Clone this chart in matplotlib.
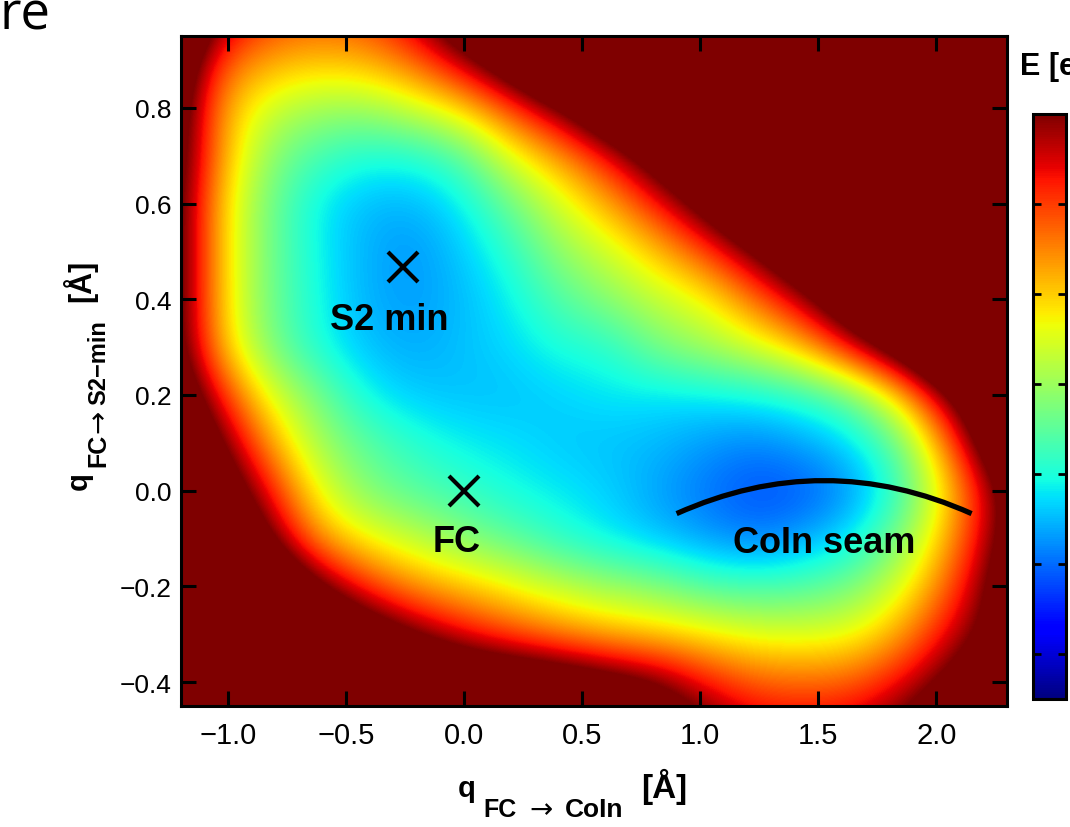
import numpy as np
import matplotlib
matplotlib.use("Agg")
import matplotlib.pyplot as plt
from matplotlib.ticker import FixedLocator, FuncFormatter
from matplotlib.colors import Normalize
from matplotlib.path import Path
from matplotlib.patches import PathPatch

plt.rcParams['font.family'] = ['Liberation Sans', 'DejaVu Sans']

# ---------------- data ----------------
# grid coordinates of the energy samples
q_coin = [-1.252, -1.045, -0.838, -0.631, -0.424, -0.217, -0.010, 0.197, 0.404,
          0.611, 0.818, 1.025, 1.232, 1.439, 1.646, 1.853, 2.060, 2.267, 2.474]
q_s2 = [-0.5, -0.4, -0.3, -0.2, -0.1, 0.0, 0.1, 0.2, 0.3, 0.4, 0.5, 0.6, 0.7, 0.8, 0.9, 1.0]

# energy rows (eV), one per q_s2 value
E_m05 = [9.0, 9.0, 9.0, 9.0, 9.0, 9.0, 9.0, 9.0, 9.0, 9.0, 7.8, 6.8, 6.2, 6.1, 6.2, 6.8, 8.0, 9.0, 9.0]
E_m04 = [9.0, 9.0, 9.0, 9.0, 9.0, 8.5, 8.0, 7.8, 7.5, 7.0, 6.6, 5.8, 5.3, 5.2, 5.3, 5.9, 6.8, 8.0, 9.0]
E_m03 = [9.0, 9.0, 9.0, 8.5, 7.5, 6.6, 5.9, 5.4, 5.0, 4.7, 4.5, 4.3, 4.05, 4.0, 4.1, 4.8, 6.0, 7.0, 9.0]
E_m02 = [9.0, 9.0, 8.5, 6.8, 5.6, 4.9, 4.55, 4.2, 3.8, 3.5, 3.3, 2.9, 2.8, 2.9, 3.2, 4.0, 5.3, 7.0, 9.0]
E_m01 = [9.0, 8.5, 6.8, 4.9, 4.2, 3.8, 3.35, 3.0, 2.6, 2.3, 2.05, 1.8, 1.6, 1.85, 2.3, 3.3, 4.8, 6.6, 8.5]
E_p00 = [9.0, 7.6, 5.9, 4.15, 3.3, 2.95, 2.7, 2.45, 2.3, 2.15, 1.85, 1.55, 1.3, 1.35, 1.75, 2.7, 4.5, 6.5, 8.5]
E_p01 = [8.5, 6.8, 4.9, 3.6, 3.0, 2.6, 2.35, 2.25, 2.1, 2.05, 2.0, 1.8, 1.65, 1.85, 2.2, 3.1, 5.2, 7.8, 9.0]
E_p02 = [8.0, 5.8, 4.1, 3.25, 2.4, 2.1, 2.05, 2.05, 2.15, 2.3, 2.25, 2.3, 2.4, 2.6, 3.1, 4.45, 6.6, 8.5, 9.0]
E_p03 = [7.5, 4.7, 3.3, 2.5, 2.05, 1.9, 2.05, 2.2, 2.5, 2.55, 3.2, 3.55, 3.95, 4.6, 5.9, 7.4, 9.0, 9.0, 9.0]
E_p04 = [7.5, 4.6, 3.2, 2.45, 1.95, 1.8, 2.0, 2.35, 2.9, 3.35, 3.8, 4.15, 5.1, 6.2, 7.8, 9.0, 9.0, 9.0, 9.0]
E_p05 = [7.5, 4.6, 3.2, 2.4, 1.95, 1.75, 2.1, 2.6, 3.4, 3.9, 4.55, 5.4, 6.6, 8.0, 9.0, 9.0, 9.0, 9.0, 9.0]
E_p06 = [7.5, 4.6, 3.2, 2.35, 2.0, 1.95, 2.3, 3.1, 3.95, 4.7, 5.7, 7.0, 8.5, 9.0, 9.0, 9.0, 9.0, 9.0, 9.0]
E_p07 = [7.6, 4.9, 3.4, 2.8, 2.5, 2.5, 2.9, 4.05, 4.8, 5.8, 7.2, 8.5, 9.0, 9.0, 9.0, 9.0, 9.0, 9.0, 9.0]
E_p08 = [7.8, 4.9, 3.9, 3.55, 3.5, 3.9, 4.4, 5.4, 6.5, 8.0, 9.0, 9.0, 9.0, 9.0, 9.0, 9.0, 9.0, 9.0, 9.0]
E_p09 = [8.2, 5.4, 4.8, 4.6, 4.7, 5.2, 6.2, 7.5, 9.0, 9.0, 9.0, 9.0, 9.0, 9.0, 9.0, 9.0, 9.0, 9.0, 9.0]
E_p10 = [9.0, 6.6, 5.6, 5.4, 5.5, 6.3, 7.8, 9.0, 9.0, 9.0, 9.0, 9.0, 9.0, 9.0, 9.0, 9.0, 9.0, 9.0, 9.0]

# conical intersection seam: start, apex, end (a smooth arc)
seam_x = [0.90, 1.525, 2.15]
seam_y = [-0.048, 0.021, -0.048]

# marked points
s2min_pt = (-0.26, 0.467)
fc_pt = (0.0, 0.0)

x_ticks = [-1.0, -0.5, 0.0, 0.5, 1.0, 1.5, 2.0]
y_ticks = [-0.4, -0.2, 0.0, 0.2, 0.4, 0.6, 0.8]
cbar_ticks = [0.5, 1.5, 2.5, 3.5, 4.5, 5.5]
E_min, E_max = 0.0, 6.5

# ---------------- figure ----------------
W, H = 1070, 828
fig = plt.figure(figsize=(W / 100, H / 100), dpi=100)
fig.patch.set_facecolor('white')


def fx(px):
    return px / W


def fy(py):
    return 1 - py / H


ax = fig.add_axes([fx(181), fy(707), fx(1007) - fx(181), fy(37) - fy(707)])

E = np.array([E_m05, E_m04, E_m03, E_m02, E_m01, E_p00, E_p01, E_p02, E_p03,
              E_p04, E_p05, E_p06, E_p07, E_p08, E_p09, E_p10])
dx = (q_coin[-1] - q_coin[0]) / (len(q_coin) - 1)
dy = (q_s2[-1] - q_s2[0]) / (len(q_s2) - 1)
extent = (q_coin[0] - dx / 2, q_coin[-1] + dx / 2, q_s2[0] - dy / 2, q_s2[-1] + dy / 2)
im = ax.imshow(E, origin='lower', extent=extent, aspect='auto', cmap='jet',
               norm=Normalize(E_min, E_max), interpolation='bicubic',
               interpolation_stage='data')

ax.set_xlim(-1.2, 2.3)
ax.set_ylim(-0.45, 0.95)

# seam as a quadratic Bezier arc through start, apex and end
ctrl_y = 2 * seam_y[1] - 0.5 * (seam_y[0] + seam_y[2])
seam_path = Path([(seam_x[0], seam_y[0]), (seam_x[1], ctrl_y), (seam_x[2], seam_y[2])],
                 [Path.MOVETO, Path.CURVE3, Path.CURVE3])
ax.add_patch(PathPatch(seam_path, facecolor='none', edgecolor='black', lw=3.8,
                       capstyle='butt', zorder=3))

ax.plot([s2min_pt[0], fc_pt[0]], [s2min_pt[1], fc_pt[1]], linestyle='none',
        marker='x', ms=21, mew=3.0, color='black', zorder=4)

ax.text(-0.316, 0.338, 'S2 min', ha='center', va='baseline', fontsize=26, fontweight='bold')
ax.text(-0.032, -0.127, 'FC', ha='center', va='baseline', fontsize=26, fontweight='bold')
ax.text(1.524, -0.128, 'CoIn seam', ha='center', va='baseline', fontsize=26, fontweight='bold')

fmt = FuncFormatter(lambda v, p: f'{round(v, 1) + 0.0:.1f}'.replace('-', '\u2212'))
ax.xaxis.set_major_locator(FixedLocator(x_ticks))
ax.yaxis.set_major_locator(FixedLocator(y_ticks))
ax.xaxis.set_major_formatter(fmt)
ax.yaxis.set_major_formatter(fmt)
ax.tick_params(which='both', direction='in', length=10.8, width=2.2,
               top=True, right=True, color='black')
ax.tick_params(axis='x', labelsize=21, pad=11)
ax.tick_params(axis='y', labelsize=19, pad=7)
for s in ax.spines.values():
    s.set_linewidth(2.2)

# colorbar
cax = fig.add_axes([fx(1033), fy(700), fx(1066) - fx(1033), fy(115) - fy(700)])
cb = fig.colorbar(im, cax=cax, ticks=cbar_ticks)
cb.outline.set_linewidth(2.2)
cax.yaxis.set_ticks_position('both')
cax.tick_params(direction='in', length=5.5, width=2.0, left=True, right=True,
                labelleft=False, labelright=False)


def T(px, py, s, size, weight='bold', rot=0, **kw):
    fig.text(fx(px), fy(py), s, fontsize=size, fontweight=weight, rotation=rot,
             rotation_mode='anchor', ha='left', va='baseline', **kw)


ARROW_FONT = ['DejaVu Sans']

# x-axis label
T(458, 797, 'q', 21)
T(483, 817, 'FC', 18)
T(529, 818, '\u2192', 20, weight='normal', family=ARROW_FONT)
T(565, 817, 'CoIn', 19)
T(641, 798, '[\u00c5]', 24)

# y-axis label
T(87, 490, 'q', 21, rot=90)
T(105, 467, 'FC', 18, rot=90)
T(106, 433, '\u2192', 20, weight='normal', rot=90, family=ARROW_FONT)
T(105, 405, 'S2\u2212min', 17, rot=90)
T(90, 302, '[\u00c5]', 22, rot=90)

# colorbar title (cut by the right edge, as in the reference)
T(1020, 75, 'E [eV]', 22)

# fragment of the page heading visible at the top left
fig.text(fx(0), fy(29), 're', fontsize=38, family=['Open Sans', 'DejaVu Sans'],
         ha='left', va='baseline')

fig.savefig('out.png', dpi=100, facecolor='white')
